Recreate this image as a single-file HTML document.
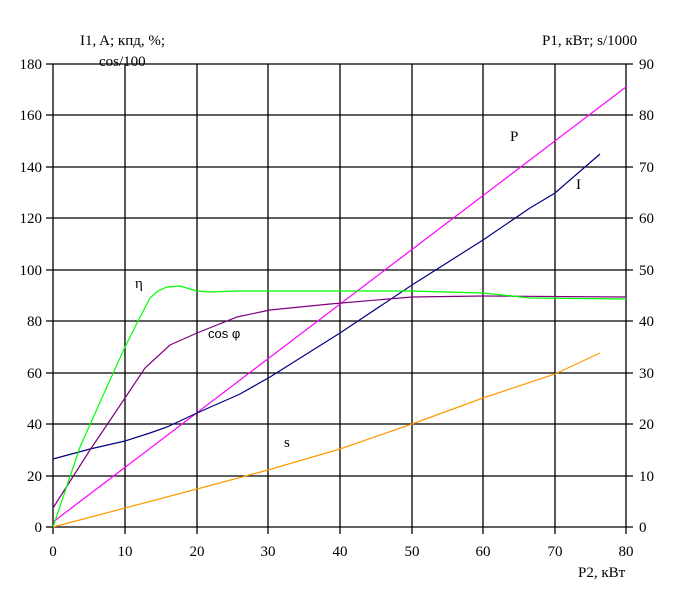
<!DOCTYPE html>
<html><head><meta charset="utf-8"><style>body{margin:0;background:#fff}svg{display:block}</style></head><body>
<svg width="673" height="604" xmlns="http://www.w3.org/2000/svg" font-family="Liberation Serif, serif" font-size="15">
<g stroke="#000" stroke-width="1.3">
<line x1="53" y1="64" x2="626" y2="64"/><line x1="53" y1="115" x2="626" y2="115"/><line x1="53" y1="167" x2="626" y2="167"/><line x1="53" y1="218" x2="626" y2="218"/><line x1="53" y1="270" x2="626" y2="270"/><line x1="53" y1="321" x2="626" y2="321"/><line x1="53" y1="373" x2="626" y2="373"/><line x1="53" y1="424" x2="626" y2="424"/><line x1="53" y1="476" x2="626" y2="476"/><line x1="46" y1="527" x2="633" y2="527"/>
<line x1="53" y1="64" x2="53" y2="534"/><line x1="125" y1="64" x2="125" y2="534"/><line x1="197" y1="64" x2="197" y2="534"/><line x1="268" y1="64" x2="268" y2="534"/><line x1="340" y1="64" x2="340" y2="534"/><line x1="412" y1="64" x2="412" y2="534"/><line x1="483" y1="64" x2="483" y2="534"/><line x1="555" y1="64" x2="555" y2="534"/><line x1="626" y1="64" x2="626" y2="534"/>
<path d="M46 64h7M46 115h7M46 167h7M46 218h7M46 270h7M46 321h7M46 373h7M46 424h7M46 476h7M626 64h7M626 115h7M626 167h7M626 218h7M626 270h7M626 321h7M626 373h7M626 424h7M626 476h7"/>
</g>
<g fill="none" stroke-width="1.2">
<polyline stroke="#ff00ff" points="53,522 626,87"/>
<polyline stroke="#000080" points="53,459 90,449 125,441 150,433 167,427 197,413 240,394 270,377 340,333 412,285 483,240 530,208 555,193 600,154"/>
<polyline stroke="#ff9900" points="53,527 125,508 197,489 268,470 340,449 412,424 483,398 555,374 600,353"/>
<polyline stroke="#800080" points="53,508 90,450 125,398 145,368 170,345 197,333 237,317 270,310 330,304 412,297 483,296 626,297"/>
<polyline stroke="#00ff00" points="53,527 80,447 110,380 125,347 137,323 150,298 158,291 167,287 180,286 197,291 210,292 237,291 412,291 483,293 530,298 626,299"/>
</g>
<g text-anchor="end"><text x="42" y="69">180</text><text x="42" y="120">160</text><text x="42" y="172">140</text><text x="42" y="223">120</text><text x="42" y="275">100</text><text x="42" y="326">80</text><text x="42" y="378">60</text><text x="42" y="429">40</text><text x="42" y="481">20</text><text x="42" y="532">0</text></g>
<g><text x="639" y="69">90</text><text x="639" y="120">80</text><text x="639" y="172">70</text><text x="639" y="223">60</text><text x="639" y="275">50</text><text x="639" y="326">40</text><text x="639" y="378">30</text><text x="639" y="429">20</text><text x="639" y="481">10</text><text x="639" y="532">0</text></g>
<g text-anchor="middle"><text x="53" y="556">0</text><text x="125" y="556">10</text><text x="197" y="556">20</text><text x="268" y="556">30</text><text x="340" y="556">40</text><text x="412" y="556">50</text><text x="483" y="556">60</text><text x="555" y="556">70</text><text x="626" y="556">80</text></g>
<text x="578" y="577">P2, кВт</text>
<text x="80" y="45">I1, A; кпд, %;</text><text x="99" y="66">cos/100</text>
<text x="542" y="45">P1, кВт; s/1000</text>
<text x="135" y="288">η</text><text x="208" y="338" font-family="Liberation Sans, sans-serif" font-size="13">cos φ</text>
<text x="510" y="141">P</text><text x="576" y="189">I</text><text x="284" y="447">s</text>
</svg>
</body></html>
